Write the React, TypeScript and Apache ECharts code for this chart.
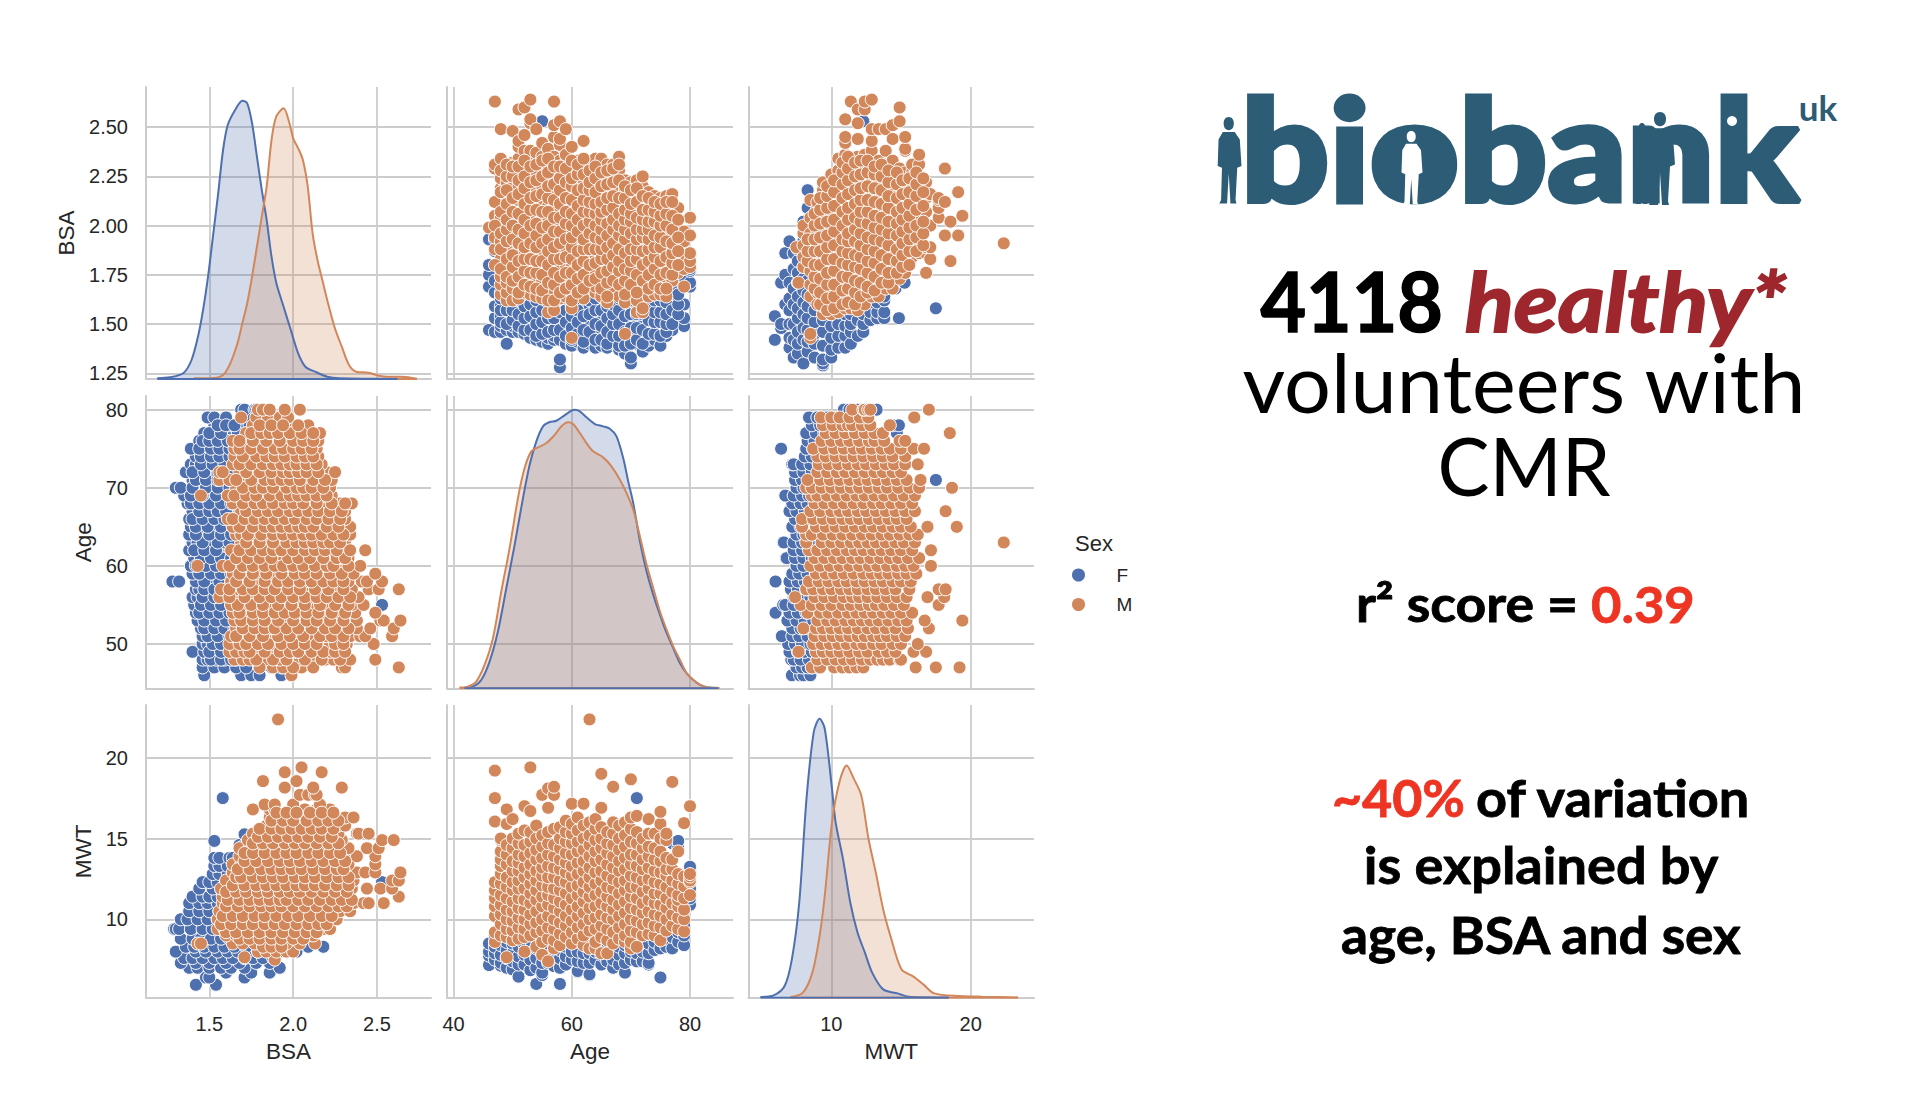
import React, { useEffect, useRef } from "react";
import * as echarts from "echarts";

const BSA_AGE_M: [number, number[]][] = [
  [46,[1.99]],
  [47,[1.88,1.94,2.05,2.29,2.31,2.63]],
  [48,[1.65,1.70,1.74,1.83,1.92,1.99,2.04,2.10,2.14,2.19,2.24,2.34,2.49]],
  [49,[1.62,1.66,1.71,1.78,1.88,1.95,2.01,2.06,2.15,2.22,2.28]],
  [50,[1.62,1.68,1.75,1.82,1.88,1.98,2.03,2.11,2.17,2.22,2.28,2.32,2.48]],
  [51,[1.63,1.70,1.77,1.88,1.94,2.03,2.09,2.13,2.20,2.26,2.34,2.40,2.43,2.59]],
  [52,[1.66,1.73,1.80,1.86,1.92,1.99,2.07,2.15,2.22,2.29,2.38,2.46,2.60]],
  [53,[1.65,1.73,1.79,1.86,1.96,2.05,2.11,2.18,2.26,2.33,2.38,2.52,2.54,2.64]],
  [54,[1.64,1.72,1.79,1.85,1.92,1.98,2.04,2.12,2.18,2.27,2.37,2.49]],
  [55,[1.63,1.72,1.78,1.87,1.95,2.03,2.12,2.20,2.30,2.35,2.42]],
  [56,[1.56,1.66,1.76,1.83,1.90,1.96,2.04,2.10,2.17,2.24,2.30,2.39]],
  [57,[1.57,1.66,1.73,1.80,1.86,1.93,2.00,2.09,2.17,2.26,2.35,2.45,2.51,2.63]],
  [58,[1.63,1.70,1.78,1.88,1.94,2.00,2.07,2.15,2.21,2.27,2.33,2.41,2.44,2.53]],
  [59,[1.64,1.72,1.80,1.89,1.97,2.04,2.10,2.18,2.26,2.32,2.36,2.49]],
  [60,[1.43,1.58,1.66,1.73,1.80,1.86,1.91,1.97,2.03,2.10,2.17,2.28,2.40]],
  [61,[1.70,1.77,1.84,1.90,1.94,2.00,2.06,2.14,2.23,2.28,2.33]],
  [62,[1.63,1.72,1.79,1.85,1.90,1.96,2.03,2.10,2.16,2.22,2.30,2.43]],
  [63,[1.69,1.76,1.84,1.92,2.00,2.05,2.10,2.15,2.20,2.25,2.31]],
  [64,[1.66,1.69,1.77,1.85,1.91,1.96,2.03,2.09,2.14,2.20,2.27,2.34]],
  [65,[1.64,1.72,1.80,1.85,1.90,1.95,2.00,2.05,2.09,2.16,2.24,2.30,2.34]],
  [66,[1.61,1.68,1.74,1.80,1.86,1.92,1.98,2.04,2.11,2.18,2.25,2.31]],
  [67,[1.69,1.76,1.82,1.88,1.95,2.00,2.06,2.12,2.18,2.26,2.31]],
  [68,[1.64,1.75,1.80,1.84,1.92,1.98,2.03,2.10,2.18,2.28,2.35]],
  [69,[1.45,1.61,1.68,1.75,1.82,1.90,1.95,2.00,2.06,2.11,2.18,2.23]],
  [70,[1.66,1.74,1.80,1.84,1.93,1.99,2.04,2.09,2.14,2.22]],
  [71,[1.56,1.62,1.71,1.80,1.85,1.90,1.95,2.00,2.08,2.16,2.23]],
  [72,[1.56,1.58,1.68,1.76,1.83,1.91,1.96,2.00,2.06,2.11,2.20,2.25]],
  [73,[1.64,1.72,1.78,1.86,1.90,1.95,2.00,2.04,2.12,2.17]],
  [74,[1.65,1.76,1.81,1.86,1.92,1.98,2.05,2.09,2.15]],
  [75,[1.65,1.71,1.79,1.86,1.91,1.96,2.03,2.08,2.14]],
  [76,[1.64,1.73,1.80,1.88,1.96,2.03,2.09,2.15]],
  [77,[1.72,1.79,1.83,1.88,1.94,2.02,2.08,2.16]],
  [78,[1.76,1.84,1.90,1.98,2.09]],
  [79,[1.69,1.78,1.85,1.92,1.97]],
  [80,[1.79,1.82,1.86,1.95,2.04]],
];
const BSA_AGE_M_MORE: [number, number[]][] = [
  [47,[1.80,2.00,2.12]],
  [48,[1.78,1.88,1.96,2.07,2.17,2.28]],
  [49,[1.74,1.83,1.92,1.98,2.03,2.11,2.18,2.25,2.31]],
  [50,[1.72,1.79,1.85,1.93,2.00,2.07,2.14,2.25,2.30]],
  [51,[1.66,1.74,1.82,1.91,1.98,2.06,2.16,2.23,2.30]],
  [52,[1.70,1.77,1.83,1.89,1.96,2.03,2.11,2.19,2.25,2.33]],
  [53,[1.69,1.76,1.83,1.91,2.00,2.08,2.14,2.22,2.30]],
  [54,[1.68,1.76,1.82,1.89,1.95,2.01,2.08,2.15,2.23,2.31]],
  [55,[1.67,1.75,1.82,1.91,1.99,2.07,2.16,2.25,2.33]],
  [56,[1.62,1.71,1.80,1.87,1.93,2.00,2.07,2.14,2.20,2.27,2.34]],
  [57,[1.62,1.70,1.76,1.83,1.89,1.97,2.04,2.13,2.21,2.30]],
  [58,[1.66,1.74,1.83,1.91,1.97,2.04,2.11,2.18,2.24,2.30]],
  [59,[1.68,1.76,1.84,1.93,2.01,2.07,2.14,2.22,2.29]],
  [60,[1.62,1.70,1.76,1.83,1.89,1.94,2.00,2.06,2.13,2.20,2.24,2.33]],
  [61,[1.66,1.73,1.80,1.87,1.97,2.03,2.10,2.18,2.26,2.31]],
  [62,[1.68,1.75,1.82,1.88,1.93,2.00,2.07,2.13,2.19,2.26,2.34]],
  [63,[1.72,1.80,1.88,1.96,2.02,2.07,2.12,2.18,2.22,2.28]],
  [64,[1.73,1.81,1.88,1.94,2.00,2.06,2.11,2.17,2.24,2.30]],
  [65,[1.68,1.76,1.83,1.88,1.93,1.98,2.03,2.07,2.12,2.20,2.27]],
  [66,[1.64,1.71,1.77,1.83,1.89,1.95,2.01,2.08,2.14,2.21,2.28]],
  [67,[1.72,1.79,1.85,1.91,1.98,2.03,2.09,2.15,2.22,2.29]],
  [68,[1.70,1.77,1.82,1.88,1.95,2.00,2.06,2.14,2.23,2.31]],
  [69,[1.65,1.72,1.78,1.86,1.93,1.98,2.03,2.08,2.14,2.20]],
  [70,[1.70,1.77,1.82,1.88,1.96,2.02,2.06,2.11,2.18]],
  [71,[1.66,1.75,1.83,1.88,1.93,1.98,2.04,2.12,2.19]],
  [72,[1.72,1.80,1.87,1.94,1.98,2.03,2.08,2.15]],
  [73,[1.68,1.75,1.82,1.88,1.93,1.98,2.02,2.08,2.14]],
  [74,[1.70,1.78,1.84,1.89,1.95,2.02,2.07,2.12]],
  [75,[1.68,1.75,1.82,1.89,1.94,2.00,2.05,2.11]],
  [76,[1.68,1.76,1.84,1.92,2.00,2.06,2.12]],
  [77,[1.75,1.81,1.86,1.91,1.98,2.05,2.12]],
  [78,[1.80,1.87,1.94,2.03]],
];
const BSA_AGE_F: [number, number[]][] = [
  [46,[1.47,1.69,1.75,1.80,1.93]],
  [47,[1.46,1.53,1.59,1.66,1.72,1.87,1.93]],
  [48,[1.46,1.49,1.54,1.59,1.66]],
  [49,[1.40,1.47,1.54,1.60,1.66]],
  [50,[1.46,1.49,1.54,1.60,1.67]],
  [51,[1.46,1.52,1.58,1.65,1.70]],
  [52,[1.45,1.49,1.56,1.62,1.68]],
  [53,[1.43,1.51,1.56,1.64,1.70]],
  [54,[1.42,1.46,1.53,1.58,1.66]],
  [55,[1.41,1.48,1.53,1.60,1.67,2.53]],
  [56,[1.40,1.43,1.50,1.58,1.64]],
  [57,[1.42,1.44,1.50,1.56,1.62,1.68]],
  [58,[1.28,1.32,1.42,1.53,1.60,1.67]],
  [59,[1.40,1.48,1.53,1.60,1.66]],
  [60,[1.39,1.45,1.51,1.56,1.62,1.68]],
  [61,[1.41,1.48,1.54,1.60,1.67]],
  [62,[1.38,1.43,1.50,1.58,1.62,1.69]],
  [63,[1.40,1.43,1.51,1.59,1.64]],
  [64,[1.38,1.46,1.54,1.60,1.66]],
  [65,[1.39,1.45,1.53,1.60,1.68]],
  [66,[1.38,1.43,1.49,1.56,1.62]],
  [67,[1.40,1.47,1.52,1.57,1.62,1.68]],
  [68,[1.37,1.41,1.47,1.54,1.60,1.67]],
  [69,[1.35,1.42,1.50,1.58,1.65]],
  [70,[1.30,1.33,1.43,1.52,1.58,1.66]],
  [71,[1.40,1.44,1.52,1.58,1.65]],
  [72,[1.36,1.43,1.51,1.58,1.66]],
  [73,[1.39,1.42,1.49,1.56,1.62,1.69]],
  [74,[1.42,1.49,1.54,1.58,1.65,1.72]],
  [75,[1.39,1.48,1.54,1.59,1.66,1.73]],
  [76,[1.44,1.48,1.53,1.57,1.65,1.74]],
  [77,[1.47,1.53,1.60,1.64,1.70,1.76]],
  [78,[1.53,1.57,1.62,1.68,1.74]],
  [79,[1.49,1.53,1.60,1.74,1.80]],
  [80,[1.69,1.71,1.77,1.78]],
];
const BSA_AGE_F_MORE: [number, number[]][] = [
  [48,[1.51,1.57,1.63]],[49,[1.50,1.57,1.63]],[50,[1.52,1.57,1.64]],[51,[1.49,1.55,1.62]],
  [52,[1.47,1.53,1.59,1.65]],[53,[1.47,1.54,1.60]],[54,[1.44,1.50,1.56,1.62]],[55,[1.45,1.51,1.57,1.63]],
  [56,[1.46,1.53,1.61]],[57,[1.47,1.53,1.59]],[58,[1.47,1.56,1.63]],[59,[1.44,1.51,1.57,1.63]],
  [60,[1.42,1.48,1.54,1.59]],[61,[1.45,1.51,1.57,1.63]],[62,[1.41,1.47,1.54,1.65]],[63,[1.46,1.55,1.62]],
  [64,[1.42,1.50,1.57,1.63]],[65,[1.42,1.49,1.57,1.64]],[66,[1.40,1.46,1.53,1.59]],[67,[1.44,1.50,1.55,1.60]],
  [68,[1.39,1.44,1.50,1.57,1.63]],[69,[1.39,1.46,1.54,1.62]],[70,[1.40,1.48,1.55,1.62]],[71,[1.42,1.48,1.55,1.62]],
  [72,[1.40,1.47,1.55,1.62]],[73,[1.45,1.52,1.59,1.65]],[74,[1.45,1.51,1.56,1.62]],[75,[1.44,1.51,1.56,1.62]],
  [76,[1.46,1.50,1.55,1.61]],[77,[1.50,1.57,1.67]],[78,[1.55,1.60,1.65]],
];

const BSA_MWT_M: [number, number[]][] = [
  [7.5,[1.89]],[7.65,[1.71]],
  [8,[1.79,1.84,1.90,1.96,2.00]],
  [8.5,[1.43,1.45,1.64,1.70,1.77,1.83,1.90,1.96,2.04,2.13]],
  [9,[1.60,1.66,1.72,1.77,1.84,1.90,1.97,2.03,2.09,2.12]],
  [9.4,[1.55,1.59,1.65,1.72,1.78,1.85,1.91,1.98,2.05,2.12,2.18,2.22]],
  [10,[1.55,1.60,1.67,1.73,1.80,1.86,1.93,2.00,2.06,2.13,2.20,2.26]],
  [10.5,[1.56,1.62,1.70,1.76,1.83,1.89,1.95,2.02,2.09,2.16,2.23,2.28,2.34]],
  [11,[1.58,1.65,1.71,1.78,1.84,1.91,1.98,2.05,2.11,2.18,2.25,2.31,2.36,2.42,2.45,2.54]],
  [11.4,[1.58,1.63,1.68,1.75,1.82,1.88,1.94,2.00,2.07,2.14,2.20,2.27,2.33,2.63]],
  [11.9,[1.57,1.62,1.69,1.76,1.82,1.89,1.95,2.01,2.08,2.15,2.22,2.29,2.35,2.44,2.52,2.59]],
  [12.4,[1.60,1.66,1.73,1.80,1.86,1.92,1.98,2.04,2.10,2.16,2.23,2.30,2.36,2.59,2.63]],
  [12.9,[1.64,1.71,1.78,1.85,1.91,1.97,2.03,2.10,2.17,2.24,2.31,2.38,2.43,2.49,2.64]],
  [13.4,[1.64,1.69,1.76,1.83,1.90,1.96,2.02,2.08,2.15,2.22,2.28,2.33,2.49]],
  [13.9,[1.68,1.73,1.80,1.86,1.93,1.99,2.05,2.11,2.17,2.24,2.31,2.38,2.49]],
  [14.4,[1.68,1.74,1.81,1.88,1.94,2.00,2.07,2.13,2.20,2.27,2.33,2.44,2.51]],
  [14.9,[1.73,1.79,1.85,1.91,1.98,2.04,2.10,2.17,2.23,2.29,2.53,2.60]],
  [15.3,[1.76,1.82,1.88,1.94,2.00,2.06,2.13,2.20,2.27,2.38,2.39,2.45]],
  [15.8,[1.84,1.90,1.96,2.02,2.08,2.14,2.20,2.27,2.31]],
  [16.3,[1.86,1.92,1.99,2.05,2.12,2.18,2.24,2.31,2.36]],
  [16.8,[1.76,1.86,1.89,2.07,2.14,2.22]],
  [17.1,[1.83,1.89,2.00,2.16]],
  [17.7,[2.04,2.09,2.13,2.14]],
  [18.15,[1.95,2.12,2.29]],
  [18.55,[1.82,2.02]],
  [19.1,[1.95,2.17]],[19.4,[2.05]],[22.37,[1.91]],
];
const BSA_MWT_M_MORE: [number, number[]][] = [
  [8.3,[1.82,1.87,1.93]],
  [8.8,[1.68,1.74,1.80,1.87,1.93,2.00,2.06]],
  [9.2,[1.60,1.66,1.73,1.80,1.87,1.94,2.01,2.08,2.14]],
  [9.7,[1.57,1.63,1.70,1.76,1.83,1.89,1.95,2.02,2.09,2.15,2.20]],
  [10.2,[1.58,1.64,1.70,1.77,1.83,1.90,1.97,2.03,2.10,2.17,2.23]],
  [10.8,[1.60,1.67,1.74,1.81,1.87,1.93,2.00,2.07,2.14,2.21,2.27,2.32]],
  [11.2,[1.61,1.68,1.74,1.80,1.86,1.92,1.96,2.03,2.09,2.16,2.23,2.29,2.35]],
  [11.7,[1.60,1.66,1.72,1.79,1.85,1.92,1.98,2.04,2.11,2.18,2.25,2.32]],
  [12.1,[1.64,1.71,1.78,1.84,1.90,1.96,2.02,2.07,2.13,2.19,2.26,2.33]],
  [12.6,[1.66,1.69,1.76,1.82,1.88,1.94,2.01,2.07,2.13,2.20,2.27,2.33]],
  [13.1,[1.67,1.74,1.81,1.87,1.93,1.99,2.05,2.12,2.19,2.26,2.30]],
  [13.6,[1.71,1.78,1.85,1.92,1.98,2.04,2.11,2.18,2.25,2.31]],
  [14.1,[1.71,1.76,1.83,1.90,1.96,2.02,2.09,2.15,2.22,2.28]],
  [14.7,[1.76,1.82,1.88,1.95,2.01,2.07,2.14,2.21,2.27]],
  [15.1,[1.79,1.85,1.91,1.97,2.03,2.09,2.16,2.23]],
  [15.6,[1.80,1.87,1.93,1.99,2.05,2.11,2.17,2.24]],
  [16.1,[1.87,1.94,2.00,2.08,2.15,2.21,2.27]],
  [16.6,[1.90,1.96,2.02,2.10,2.17,2.24]],
];
const BSA_MWT_F: [number, number[]][] = [
  [5.95,[1.42,1.54]],
  [6.4,[1.48,1.50,1.71]],
  [6.7,[1.60,1.75,1.86]],
  [7,[1.38,1.43,1.50,1.57,1.63,1.71,1.92]],
  [7.3,[1.33,1.42,1.50,1.60,1.68,1.78,1.86]],
  [7.6,[1.35,1.40,1.46,1.53,1.58,1.64,1.71,1.76,1.82,1.88]],
  [8,[1.30,1.42,1.48,1.55,1.61,1.67,1.73,1.79,1.86,1.92,2.02]],
  [8.3,[1.36,1.41,1.47,1.53,1.59,1.65,1.72,1.80,1.86,2.09,2.18]],
  [8.8,[1.33,1.40,1.45,1.51,1.57,1.62,1.72,1.85]],
  [9.4,[1.29,1.30,1.32,1.39,1.46,1.52,1.58,1.64,1.70]],
  [10,[1.33,1.37,1.43,1.49,1.55,1.61,1.66]],
  [10.5,[1.38,1.44,1.50,1.56,1.62]],
  [11,[1.38,1.44,1.49,1.55,1.60]],
  [11.4,[1.40,1.46,1.50,1.55,1.60]],
  [11.9,[1.44,1.52,1.57,1.62]],
  [12.3,[1.46,1.50,1.55,1.60,1.64,2.53]],
  [12.8,[1.52,1.56,1.61,1.66]],
  [13.3,[1.53,1.56,1.61,1.66]],
  [13.8,[1.53,1.56,1.62,1.64]],
  [14.6,[1.68,1.71]],[14.85,[1.53]],[15.26,[1.71]],[17.5,[1.58]],
];

const MWT_AGE_M: [number, number[]][] = [
  [47,[8.6,9.2,10.2,10.8,11.3,11.8,12.3,16.05,17.5,19.2]],
  [48,[9.0,9.7,10.3,10.9,11.5,12.2,12.8,13.3,13.7,14.2,14.9,15.0]],
  [49,[7.65,8.9,9.4,10.0,10.6,11.3,12.0,12.6,13.4,14.0,14.6,15.9,16.8]],
  [50,[8.7,9.3,9.9,10.5,11.1,11.8,12.3,13.0,13.6,14.4,15.0,16.2]],
  [51,[8.8,9.5,10.1,10.7,11.3,11.9,12.4,13.0,13.5,14.0,14.7,15.3]],
  [52,[8.0,8.9,9.4,10.0,10.6,11.2,11.9,12.6,13.2,13.9,14.6,15.5,17.0]],
  [53,[9.0,9.7,10.3,11.0,11.6,12.2,12.8,13.4,14.1,14.8,15.4,16.7,19.4]],
  [54,[8.3,9.2,9.8,10.5,11.2,11.8,12.4,13.0,13.7,14.3,15.0,15.8]],
  [55,[7.8,8.6,9.3,10.0,10.8,11.4,12.1,12.7,13.2,13.8,14.5,15.2,17.7]],
  [56,[7.4,8.8,9.5,10.2,10.9,11.5,12.0,12.6,13.3,14.0,14.7,15.4,16.9,18.1]],
  [57,[8.2,8.7,9.4,10.0,10.7,11.3,11.9,12.6,13.2,13.9,14.6,15.6,17.7,18.2]],
  [58,[8.4,9.1,9.8,10.5,11.1,11.8,12.4,13.1,13.7,14.4,15.0,15.7]],
  [59,[8.9,9.6,10.2,10.9,11.6,12.3,12.9,13.5,14.1,14.8,15.4,16.1]],
  [60,[8.5,9.2,9.9,10.6,11.3,12.0,12.7,13.3,14.0,14.7,15.3,15.9,17.15]],
  [61,[8.8,9.5,10.2,10.8,11.5,12.1,12.8,13.5,14.2,14.8,15.5,16.3]],
  [62,[8.4,9.0,9.7,10.4,11.1,11.7,12.3,13.0,13.6,14.3,15.0,15.8,17.15]],
  [63,[8.2,9.3,10.0,10.7,11.4,12.0,12.6,13.2,13.9,14.6,15.2,16.0,22.37]],
  [64,[8.2,8.6,9.4,10.1,10.8,11.5,12.2,12.9,13.6,14.2,14.9,15.6,16.2]],
  [65,[7.9,8.9,9.6,10.3,11.0,11.7,12.4,13.0,13.7,14.4,15.0,15.7,16.9,19.0]],
  [66,[7.9,8.7,9.4,10.1,10.8,11.4,12.0,12.7,13.4,14.1,14.7,15.4]],
  [67,[8.5,9.2,10.0,10.6,11.2,11.9,12.5,13.2,13.9,14.6,15.3,16.0,18.2]],
  [68,[8.8,9.5,10.2,10.9,11.6,12.3,13.0,13.6,14.3,15.0,15.8]],
  [69,[8.6,9.0,9.7,10.4,11.1,11.8,12.4,13.1,13.8,14.5,15.2,16.0]],
  [70,[8.2,8.6,9.3,10.0,10.7,11.4,12.0,12.7,13.4,14.0,14.8,15.6,16.3,18.66]],
  [71,[8.3,9.2,9.9,10.6,11.3,12.0,12.6,13.3,14.0,14.7,15.4,16.4]],
  [72,[9.0,9.7,10.4,11.0,11.7,12.4,13.1,13.7,14.4,15.0]],
  [73,[9.1,9.8,10.5,11.2,11.9,12.5,13.2,13.9,14.5,15.3,16.2]],
  [74,[9.0,9.6,10.3,11.0,11.6,12.3,13.0,13.7,14.4,15.3]],
  [75,[8.7,9.5,10.2,10.9,11.6,12.2,12.9,13.6,14.2,15.0,15.9,16.65]],
  [76,[9.3,10.0,10.7,11.3,12.0,12.7,13.1,13.8,14.9,15.3]],
  [77,[9.6,10.3,11.0,11.7,12.4,13.1,13.7,18.5]],
  [78,[9.4,10.1,10.8,11.2,11.5,12.2,12.8,14.2]],
  [79,[9.25,10.0,10.6,11.3,12.05,12.65,15.95]],
  [80,[11.5,12.3,12.4,12.65,12.8,17.0]],
];
const MWT_AGE_F: [number, number[]][] = [
  [46,[7.17,7.75,8.0,8.5]],
  [47,[7.5,7.9,8.3,8.6,9.0]],
  [48,[7.13,7.3,7.8,8.4,9.0]],
  [49,[7.0,7.6,8.1,8.6]],
  [50,[6.9,7.4,7.9,8.5,9.1,9.5]],
  [51,[6.45,7.2,7.7,8.3,8.9]],
  [52,[7.2,7.8,8.4,9.0,9.3]],
  [53,[6.85,7.5,8.1,8.7]],
  [54,[6.0,7.0,7.6,8.2,8.8]],
  [55,[6.55,6.7,7.3,7.9,8.5,9.2]],
  [56,[7.3,7.9,8.5,9.0]],
  [57,[7.1,7.6,8.2,8.8]],
  [58,[6.0,7.0,7.6,8.1,8.7]],
  [59,[7.2,7.7,8.3,8.9]],
  [60,[7.5,8.0,8.6,9.1]],
  [61,[6.75,6.8,7.4,8.0,8.6]],
  [62,[7.3,7.9,8.5,9.0]],
  [63,[6.55,6.6,7.3,7.9,8.4]],
  [64,[7.5,8.0,8.6]],
  [65,[7.2,7.8,8.3,8.9]],
  [66,[7.4,8.0,8.5,9.0]],
  [67,[7.0,7.5,8.1,8.7]],
  [68,[7.2,7.8,8.3,8.9]],
  [69,[6.7,7.3,7.9,8.4,9.0]],
  [70,[7.5,8.0,8.6,9.2]],
  [71,[7.4,7.9,8.5,9.2,17.5]],
  [72,[7.4,8.0,8.6,9.1,9.6]],
  [73,[7.2,7.3,7.9,8.5,9.1,9.7]],
  [74,[8.1,8.6,9.2,9.7]],
  [75,[6.4,8.2,8.7,9.3,10.0]],
  [76,[8.3,8.8,9.5,10.2,15.3]],
  [77,[8.2,8.9,9.5,14.7]],
  [78,[8.6,9.2,14.4,14.85]],
  [79,[8.4,9.0,9.7,10.6]],
  [80,[10.9,11.3,11.9,13.0,13.25]],
];

const KDE_BSA_F = [[1.19,.007],[1.264,.017],[1.344,.057],[1.394,.19],[1.437,.457],[1.466,.723],[1.495,1.057],[1.524,1.457],[1.553,1.857],[1.582,2.29],[1.61,2.54],[1.654,2.69],[1.697,2.783],[1.726,2.757],[1.755,2.557],[1.784,2.223],[1.813,1.89],[1.842,1.59],[1.871,1.223],[1.9,.957],[1.943,.723],[1.986,.49],[2.03,.257],[2.073,.123],[2.131,.073],[2.203,.023],[2.276,.007],[2.622,.002]];
const KDE_BSA_M = [[1.408,.007],[1.524,.01],[1.582,.04],[1.625,.157],[1.668,.357],[1.697,.557],[1.726,.757],[1.755,1.023],[1.784,1.323],[1.813,1.623],[1.842,1.923],[1.871,2.39],[1.899,2.623],[1.943,2.707],[1.978,2.557],[2.0,2.407],[2.03,2.307],[2.058,2.19],[2.087,1.923],[2.116,1.457],[2.145,1.19],[2.174,.99],[2.203,.79],[2.246,.523],[2.29,.323],[2.333,.14],[2.376,.073],[2.448,.063],[2.52,.03],[2.564,.023],[2.651,.023],[2.738,.002]];
const KDE_AGE_F = [[41.86,.007],[43.28,.017],[44.69,.083],[46.1,.267],[47.51,.567],[48.93,1.0],[50.34,1.433],[51.75,1.9],[52.88,2.233],[54.01,2.467],[55.14,2.617],[56.27,2.66],[57.4,2.673],[58.53,2.717],[59.94,2.773],[60.51,2.783],[61.36,2.767],[62.49,2.707],[63.9,2.64],[65.31,2.617],[66.44,2.593],[67.57,2.517],[68.7,2.3],[69.55,2.067],[70.4,1.85],[71.53,1.467],[72.66,1.167],[73.79,.933],[74.92,.733],[76.05,.55],[77.18,.4],[78.31,.25],[79.44,.15],[80.57,.083],[81.7,.033],[82.83,.01],[84.8,.003]];
const KDE_AGE_M = [[41.02,.007],[42.43,.017],[43.84,.067],[45.25,.233],[46.67,.5],[48.08,.967],[49.49,1.4],[50.9,1.9],[52.03,2.2],[53.16,2.367],[54.29,2.407],[55.71,2.45],[57.12,2.533],[58.25,2.617],[59.38,2.657],[60.23,2.64],[61.36,2.55],[62.49,2.45],[63.62,2.367],[65.31,2.307],[66.72,2.217],[68.14,2.083],[69.27,1.95],[70.4,1.783],[71.53,1.517],[72.66,1.233],[73.79,1.0],[74.92,.767],[76.05,.583],[77.18,.417],[78.31,.283],[79.44,.15],[80.57,.083],[81.7,.033],[82.83,.01],[84.97,.003]];
const KDE_MWT_F = [[4.92,.007],[5.86,.023],[6.65,.117],[7.17,.383],[7.7,.95],[8.22,1.983],[8.74,2.65],[9.16,2.783],[9.53,2.683],[10.05,2.083],[10.31,1.75],[10.84,1.383],[11.36,.95],[11.88,.65],[12.41,.45],[12.93,.25],[13.72,.083],[14.76,.043],[15.55,.01],[18.43,.003]];
const KDE_MWT_M = [[7.07,.007],[7.96,.05],[8.64,.25],[9.16,.617],[9.53,1.017],[10.05,1.75],[10.58,2.15],[11.1,2.317],[11.62,2.183],[12.15,2.017],[12.67,1.583],[13.19,1.25],[13.72,.883],[14.24,.617],[15.03,.283],[15.81,.217],[16.6,.133],[17.38,.043],[19.21,.017],[20.79,.01],[23.4,.003]];

const BSA_X_TICKS = [1.5, 2, 2.5];
const AGE_TICKS_X = [40, 60, 80];
const MWT_TICKS_X = [10, 20];
const BSA_Y_TICKS = [1.25, 1.5, 1.75, 2, 2.25, 2.5];
const AGE_Y_TICKS = [50, 60, 70, 80];
const MWT_Y_TICKS = [10, 15, 20];
const VARIABLES = ["BSA", "Age", "MWT"];
const SEXES = ["F", "M"];

const BLUE = "#4f70ae";
const ORANGE = "#d2875b";
const GRID = "#cccccc";
const INK = "#262626";
const LOGO = "#2d5c76";
const SANS = "'Liberation Sans', Arial, sans-serif";
const BODY = "Lato, sans-serif";

const COLS = [
  { left: 146, width: 285, min: 1.1225, max: 2.822, ticks: BSA_X_TICKS, fmt: (v: number) => v.toFixed(1) },
  { left: 447, width: 286, min: 38.9, max: 87.27, ticks: AGE_TICKS_X, fmt: (v: number) => String(v) },
  { left: 748.5, width: 285.5, min: 4.06, max: 24.54, ticks: MWT_TICKS_X, fmt: (v: number) => String(v) },
];
const ROWS = [
  { top: 87, height: 292, min: 1.221, max: 2.704, ticks: BSA_Y_TICKS, fmt: (v: number) => v.toFixed(2) },
  { top: 396, height: 292.3, min: 44.33, max: 81.75, ticks: AGE_Y_TICKS, fmt: (v: number) => String(v) },
  { top: 705, height: 292.7, min: 5.15, max: 23.26, ticks: MWT_Y_TICKS, fmt: (v: number) => String(v) },
];

const flat = (rows: [number, number[]][]) => rows.flatMap(([k, vs]) => vs.map((v) => [k, v]));
const swap = (pts: number[][]) => pts.map(([a, b]) => [b, a]);

// [age, bsa], [mwt, bsa], [age, mwt]
const ageBsa = [[...flat(BSA_AGE_F), ...flat(BSA_AGE_F_MORE)], [...flat(BSA_AGE_M), ...flat(BSA_AGE_M_MORE)]];
const mwtBsa = [flat(BSA_MWT_F), [...flat(BSA_MWT_M), ...flat(BSA_MWT_M_MORE)]];
const ageMwt = [flat(MWT_AGE_F), flat(MWT_AGE_M)];
const PANELS: Record<string, number[][][]> = {
  "0,1": ageBsa,
  "0,2": mwtBsa,
  "1,0": ageBsa.map(swap),
  "1,2": ageMwt.map(swap),
  "2,0": mwtBsa.map(swap),
  "2,1": ageMwt,
};
const KDES = [[KDE_BSA_F, KDE_BSA_M], [KDE_AGE_F, KDE_AGE_M], [KDE_MWT_F, KDE_MWT_M]];

echarts.graphic.registerShape(
  "bbPerson",
  echarts.graphic.extendPath(
    "M15 0C19 0 21 3 21 7C21 11 19 14 15 14C11 14 9 11 9 7C9 3 11 0 15 0ZM8 16L22 16L28 24L30 52L25 54L23 88L24 92L17 92L15 60L13 92L4 92L6 88L7 54L2 52L3 24Z",
    {}
  )
);

function buildOption() {
  const grid: any[] = [], xAxis: any[] = [], yAxis: any[] = [], series: any[] = [];
  ROWS.forEach((r, ri) => {
    COLS.forEach((c, ci) => {
      const idx = ri * 3 + ci;
      grid.push({ left: c.left, top: r.top, width: c.width, height: r.height, containLabel: false });
      xAxis.push({
        type: "value", gridIndex: idx, min: c.min, max: c.max, silent: true,
        name: ri === 2 ? VARIABLES[ci] : "", nameLocation: "middle", nameGap: 42,
        nameTextStyle: { color: INK, fontSize: 22.5, fontFamily: SANS },
        axisLine: { show: true, onZero: false, lineStyle: { color: GRID, width: 2 } },
        axisTick: { show: false, customValues: c.ticks },
        axisLabel: { show: ri === 2, customValues: c.ticks, formatter: c.fmt, color: INK, fontSize: 20, fontFamily: SANS, margin: 16 },
        splitLine: { show: true, lineStyle: { color: GRID, width: 1.8 } },
      });
      yAxis.push({
        type: "value", gridIndex: idx, min: r.min, max: r.max, silent: true,
        name: ci === 0 ? VARIABLES[ri] : "", nameLocation: "middle", nameRotate: 90,
        nameGap: ri === 0 ? 68 : 51,
        nameTextStyle: { color: INK, fontSize: 22.5, fontFamily: SANS },
        axisLine: { show: true, onZero: false, lineStyle: { color: GRID, width: 2 } },
        axisTick: { show: false, customValues: r.ticks },
        axisLabel: { show: ci === 0, customValues: r.ticks, formatter: r.fmt, color: INK, fontSize: 20, fontFamily: SANS, margin: 18 },
        splitLine: { show: true, lineStyle: { color: GRID, width: 1.8 } },
      });
    });
  });
  ROWS.forEach((r, d) => {
    const gridIdx = d * 3 + d;
    yAxis.push({ type: "value", gridIndex: gridIdx, min: 0, max: 2.92, show: false, splitLine: { show: false } });
    const kdeAxis = yAxis.length - 1;
    SEXES.forEach((sex, s) => {
      const color = s === 0 ? BLUE : ORANGE;
      const data = KDES[d][s];
      series.push({
        type: "line", name: sex + " density", xAxisIndex: gridIdx, yAxisIndex: kdeAxis, data,
        showSymbol: false, symbol: "none", smooth: 0.3, silent: true, z: 2,
        lineStyle: { color, width: 2 }, itemStyle: { color },
        areaStyle: { color, opacity: 0.25, origin: "start" },
      });
      series.push({
        type: "line", name: sex + " baseline", xAxisIndex: gridIdx, yAxisIndex: kdeAxis,
        data: [[data[0][0], 0], [data[data.length - 1][0], 0]], z: s === 0 ? 4 : 3,
        showSymbol: false, symbol: "none", silent: true, lineStyle: { color, width: 2 },
      });
    });
  });
  Object.keys(PANELS).forEach((key) => {
    const [ri, ci] = key.split(",").map(Number);
    const idx = ri * 3 + ci;
    SEXES.forEach((sex, s) => {
      series.push({
        type: "scatter", name: sex, xAxisIndex: idx, yAxisIndex: idx, data: PANELS[key][s],
        symbol: "circle", symbolSize: 13, silent: true, z: 3 + s,
        itemStyle: { color: s === 0 ? BLUE : ORANGE, borderColor: "#ffffff", borderWidth: 1, opacity: 1 },
      });
    });
  });

  const text = (t: string, x: number, y: number, size: number, fill: string, extra: any = {}, scaleX = 1) => ({
    type: "text", x, y, scaleX, silent: true, z: 20,
    style: {
      text: t, fill, fontSize: size, fontFamily: extra.fontFamily || BODY, fontWeight: extra.fontWeight || "normal",
      fontStyle: extra.fontStyle || "normal",
      align: extra.align || "center", textAlign: extra.align || "center",
      verticalAlign: "middle", textVerticalAlign: "middle",
      stroke: extra.stroke, lineWidth: extra.lineWidth, lineJoin: "round",
    },
  });
  const person = (x: number, y: number, sx: number, sy: number, fill: string) => ({
    type: "bbPerson", x, y, scaleX: sx, scaleY: sy, silent: true, z: 23, style: { fill },
  });
  const heavy = (c: string, w = 1) => ({ fontWeight: 700, stroke: c, lineWidth: w });

  const graphic = [
    text("biobank", 1520, 146, 142, LOGO, { fontWeight: 900, stroke: LOGO, lineWidth: 5 }, 1.09),
    text("uk", 1818, 107, 35, LOGO, { fontWeight: 700 }),
    person(1216, 117, 0.85, 0.94, LOGO),
    { type: "ellipse", silent: true, z: 22, shape: { cx: 1410, cy: 162, rx: 24, ry: 28 }, style: { fill: LOGO } },
    person(1400, 131, 0.75, 0.8, "#ffffff"),
    person(1633, 123, 0.6, 0.88, LOGO),
    person(1645, 112, 1.0, 1.01, LOGO),
    { type: "circle", silent: true, z: 23, shape: { cx: 1732, cy: 121, r: 5 }, style: { fill: "#ffffff" } },
    text("Sex", 1075, 543, 22, INK, { align: "left", fontFamily: SANS }),
    text("4118", 1443, 300, 82, "#000000", { align: "right", ...heavy("#000000", 1.5) }, 0.96),
    text("healthy*", 1465, 300, 82, "#9e272d", { align: "left", fontStyle: "italic", ...heavy("#9e272d", 2) }, 1.1),
    text("volunteers with", 1524, 382, 82, "#000000", {}, 1.01),
    text("CMR", 1524, 464, 82, "#000000", {}, 0.95),
    text("r\u00b2 score = ", 1591, 603, 50, "#000000", { align: "right", ...heavy("#000000", 0.8) }, 1.07),
    text("0.39", 1591, 603, 50, "#ee3524", { align: "left", ...heavy("#ee3524", 0.8) }, 1.05),
    text("~40%", 1465, 797, 52, "#ee3524", { align: "right", ...heavy("#ee3524", 0.8) }),
    text("of variation", 1476, 797, 52, "#000000", { align: "left", ...heavy("#000000", 0.8) }, 1.04),
    text("is explained by", 1541, 864, 52, "#000000", heavy("#000000", 0.8), 1.04),
    text("age, BSA and sex", 1541, 934, 52, "#000000", heavy("#000000", 0.8), 1.025),
  ];

  return {
    animation: false,
    backgroundColor: "#ffffff",
    grid, xAxis, yAxis, series, graphic,
    legend: {
      data: SEXES, orient: "vertical", left: 1070, top: 565.5, itemWidth: 66, itemHeight: 15, itemGap: 10.5,
      icon: "circle", selectedMode: false, padding: 0,
      textStyle: { color: INK, fontSize: 19, fontFamily: SANS, padding: 0 },
    },
  };
}

export default function App() {
  const ref = useRef<HTMLDivElement>(null);
  useEffect(() => {
    document.body.style.margin = "0";
    const chart = echarts.init(ref.current!, undefined, { renderer: "svg" });
    chart.setOption(buildOption() as any);
    return () => chart.dispose();
  }, []);
  return <div ref={ref} style={{ position: "absolute", left: 0, top: 0, width: 1928, height: 1110 }} />;
}
